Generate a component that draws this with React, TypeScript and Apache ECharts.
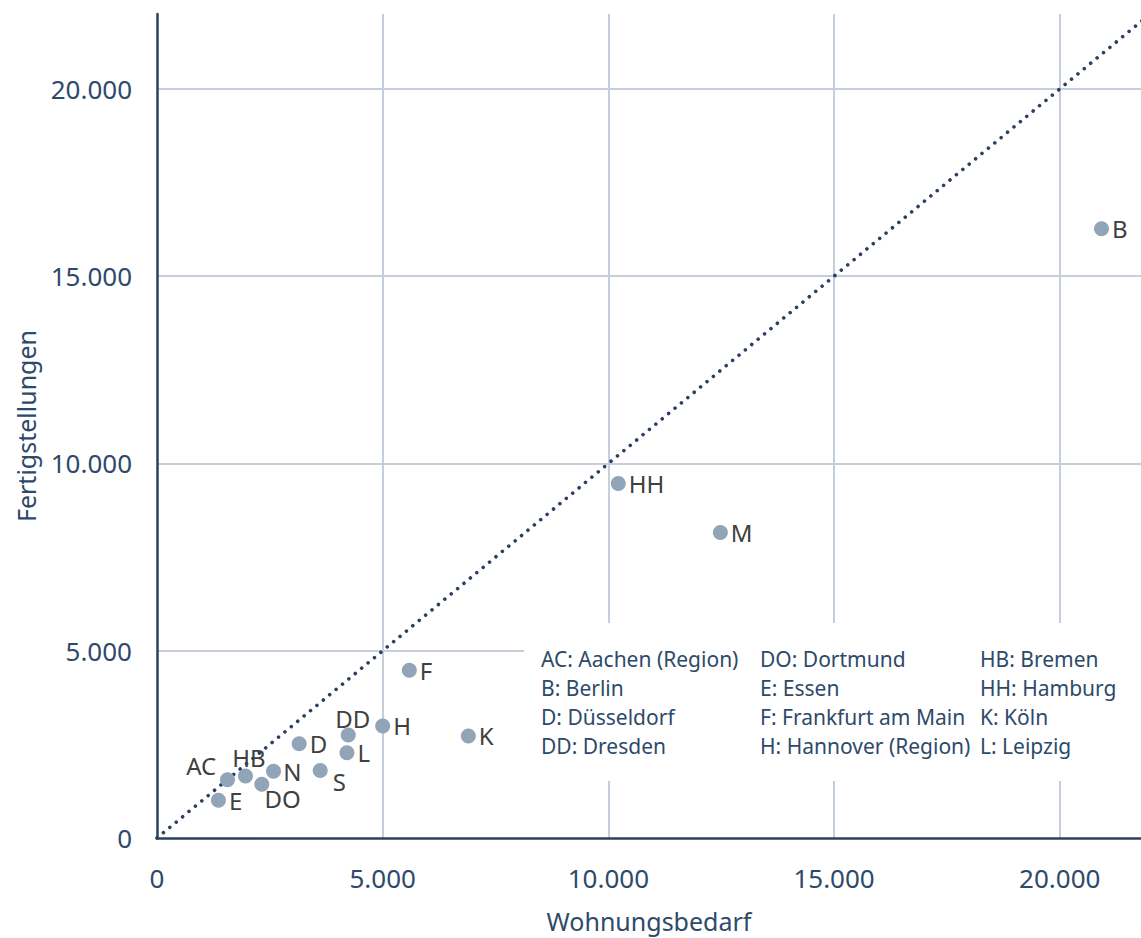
import React, { useEffect, useRef } from "react";
import * as echarts from "echarts";

// ---- Data ----
const codes = ["B", "HH", "M", "F", "H", "DD", "K", "D", "L", "S", "N", "HB", "AC", "DO", "E"];
const wohnungsbedarf = [20925, 10219, 12481, 5590, 5000, 4237, 6898, 3150, 4208, 3616, 2581, 1960, 1561, 2322, 1361];
const fertigstellungen = [16265, 9468, 8158, 4478, 2991, 2752, 2726, 2514, 2274, 1805, 1779, 1654, 1557, 1433, 1009];

const diagonalX = [0, 22000];
const diagonalY = [0, 22000];

const legendCol1 = ["AC: Aachen (Region)", "B: Berlin", "D: Düsseldorf", "DD: Dresden"];
const legendCol2 = ["DO: Dortmund", "E: Essen", "F: Frankfurt am Main", "H: Hannover (Region)"];
const legendCol3 = ["HB: Bremen", "HH: Hamburg", "K: Köln", "L: Leipzig"];

const xAxisName = "Wohnungsbedarf";
const yAxisName = "Fertigstellungen";

// ---- Style / layout ----
const FONT = '"Noto Sans", "Open Sans", sans-serif';
const AXIS_TEXT = "#2e4a6a";
const AXIS_LINE = "#2b4060";
const GRID_LINE = "#c4cfdb";
const POINT = "#91a4b8";
const LABEL_TEXT = "#404040";

// label centre offsets (relative to the point) for labels not placed to the right
const labelCenterOffsets: Record<string, [number, number]> = {
  DD: [4.6, -16.6],
  HB: [3.5, -18.9],
  AC: [-26.2, -14.5],
  S: [19.2, 11.5],
  DO: [20.8, 14.5],
  N: [18.8, 0.5],
};

const fmt = (v: number) => {
  const s = Math.round(v).toString();
  return s.replace(/\B(?=(\d{3})+(?!\d))/g, ".");
};

export default function App() {
  const ref = useRef<HTMLDivElement>(null);

  useEffect(() => {
    if (!ref.current) return;
    const chart = echarts.init(ref.current, undefined, { renderer: "svg" });

    const points = codes.map((c, i) => {
      const off = labelCenterOffsets[c];
      return {
        name: c,
        value: [wohnungsbedarf[i], fertigstellungen[i]],
        label: off
          ? { position: "inside", offset: off, align: "center", verticalAlign: "middle" }
          : undefined,
      };
    });

    const legendTexts: any[] = [];
    const cols = [legendCol1, legendCol2, legendCol3];
    const colX = [541, 760, 980];
    const rowY = [659, 688, 717, 746];
    cols.forEach((col, ci) =>
      col.forEach((t, ri) =>
        legendTexts.push({
          type: "text",
          z: 101,
          x: colX[ci],
          y: rowY[ri],
          style: {
            text: t,
            font: `21px ${FONT}`,
            fill: AXIS_TEXT,
            align: "left",
            verticalAlign: "middle",
          },
        })
      )
    );

    chart.setOption({
      animation: false,
      backgroundColor: "#ffffff",
      textStyle: { fontFamily: FONT },
      grid: { left: 157, right: 0, top: 14, bottom: 96, containLabel: false },
      xAxis: {
        type: "value",
        min: 0,
        max: 21800,
        interval: 5000,
        name: xAxisName,
        nameLocation: "middle",
        nameGap: 70,
        nameTextStyle: { fontSize: 25, color: AXIS_TEXT, fontFamily: FONT },
        axisLine: { show: true, onZero: false, lineStyle: { color: AXIS_LINE, width: 2.5 } },
        axisTick: { show: false },
        axisLabel: {
          fontSize: 26,
          color: AXIS_TEXT,
          margin: 27,
          fontFamily: FONT,
          showMaxLabel: false,
          formatter: (v: number) => (v % 5000 === 0 ? fmt(v) : ""),
        },
        splitLine: {
          show: true,
          showMinLine: false,
          showMaxLine: false,
          lineStyle: { color: GRID_LINE, width: 2 },
        },
      },
      yAxis: {
        type: "value",
        min: 0,
        max: 22000,
        interval: 5000,
        name: yAxisName,
        nameLocation: "middle",
        nameGap: 119,
        nameRotate: 90,
        nameTextStyle: { fontSize: 25, color: AXIS_TEXT, fontFamily: FONT },
        axisLine: { show: true, onZero: false, lineStyle: { color: AXIS_LINE, width: 2.5 } },
        axisTick: { show: false },
        axisLabel: {
          fontSize: 26,
          color: AXIS_TEXT,
          margin: 25,
          fontFamily: FONT,
          showMaxLabel: false,
          formatter: (v: number) => (v % 5000 === 0 ? fmt(v) : ""),
        },
        splitLine: {
          show: true,
          showMinLine: false,
          showMaxLine: false,
          lineStyle: { color: GRID_LINE, width: 2 },
        },
      },
      series: [
        {
          type: "line",
          data: diagonalX.map((x, i) => [x, diagonalY[i]]),
          showSymbol: false,
          symbol: "none",
          silent: true,
          clip: true,
          z: 3,
          lineStyle: { color: AXIS_LINE, width: 3.6, type: [0.01, 8.3], cap: "round" },
        },
        {
          type: "scatter",
          data: points,
          symbol: "circle",
          symbolSize: 15,
          z: 4,
          itemStyle: { color: POINT, opacity: 1 },
          label: {
            show: true,
            position: "right",
            distance: 3,
            formatter: "{b}",
            fontSize: 24,
            lineHeight: 20,
            color: LABEL_TEXT,
            fontFamily: FONT,
          },
        },
      ],
      graphic: [
        {
          type: "rect",
          z: 100,
          shape: { x: 524, y: 623, width: 617, height: 158 },
          style: { fill: "#ffffff", stroke: "none" },
        },
        ...legendTexts,
      ],
    });

    return () => chart.dispose();
  }, []);

  return (
    <div
      ref={ref}
      style={{ position: "fixed", left: 0, top: 0, width: 1141, height: 938, background: "#fff" }}
    />
  );
}
